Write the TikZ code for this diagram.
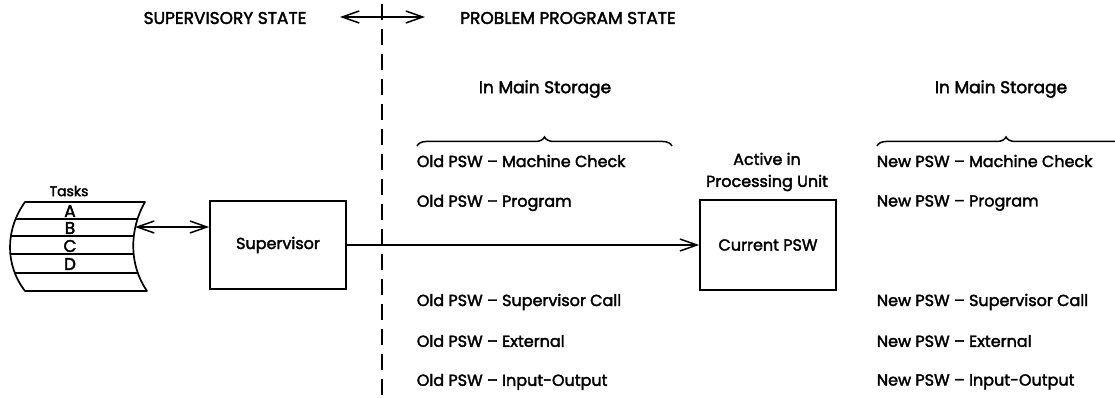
\documentclass[tikz,border=0pt]{standalone}
\usepackage{fontspec}
\setmainfont{Poppins}[FakeBold=2.2]
\usetikzlibrary{arrows.meta,decorations.pathreplacing}
\begin{document}
\begin{tikzpicture}[x=1pt,y=-1pt, line width=1.7pt,
  lbl/.style={font=\fontsize{16}{22}\selectfont, inner sep=0pt},
  biglbl/.style={font=\fontsize{17}{22}\selectfont, inner sep=0pt},
  tasklbl/.style={font=\fontsize{14}{18}\selectfont, inner sep=0pt},
  letterlbl/.style={font=\fontsize{17}{18}\selectfont, inner sep=0pt},
  listitem/.style={lbl, anchor=west},
  box/.style={draw, minimum width=136pt, minimum height=88pt},
  mytip/.tip={Straight Barb[length=17pt,width=12pt,line width=1.5pt]},
  arr/.style={-{mytip}},
  darr/.style={{mytip}-{mytip}},
  divider/.style={dash pattern=on 16pt off 9pt},
  mbrace/.style={decorate, decoration={brace, amplitude=9pt}, line width=1.5pt}]
\useasboundingbox (0,0) rectangle (1115,398);

% titles
\node[biglbl] (sst) at (225,18) {SUPERVISORY STATE};
\node[biglbl] (pst) at (568,18) {PROBLEM PROGRAM STATE};
\coordinate (divtop) at (382,4);
\coordinate (divbot) at (382,396);
\draw[divider] (divtop) -- (divbot);
\coordinate (tl) at (340,17);
\coordinate (tr) at (425,17);
\draw[darr] (tl) -- (tr);

% tasks drum
\def\drum{(25,202) -- (145,202) .. controls (129,230) and (129,265) .. (147,291) -- (25,291) .. controls (5,265) and (5,230) .. cycle}
\begin{scope}
  \clip \drum;
  \foreach \yy in {219,236,254,273} \draw (0,\yy) -- (160,\yy);
\end{scope}
\draw[line join=round] \drum;
\node[tasklbl] (tasks) at (69,191) {Tasks};
\node[letterlbl] (ta) at (70,211) {A};
\node[letterlbl] (tb) at (70,228) {B};
\node[letterlbl] (tc) at (70,246) {C};
\node[letterlbl] (td) at (70,264) {D};
\coordinate (drumR) at (135,227);

% supervisor
\node[box, lbl] (sup) at (278,245) {Supervisor};
\draw[darr] (drumR) -- (drumR -| sup.west);

% current PSW
\node[lbl, align=center] (active) at (767,172) {Active in\\Processing Unit};
\node[box, lbl, minimum height=90pt] (cpsw) at (768,245) {Current PSW};
\draw[arr] (sup.east) -- (cpsw.west);

% old PSWs
\node[biglbl] (ims1) at (545,89) {In Main Storage};
\coordinate (b1l) at (417,146);
\coordinate (b1r) at (672,146);
\draw[mbrace] (b1l) -- (b1r);
\node[listitem] (o1) at (416,161) {Old PSW -- Machine Check};
\node[listitem] (o2) at (416,203) {Old PSW -- Program};
\node[listitem] (o3) at (416,302) {Old PSW -- Supervisor Call};
\node[listitem] (o4) at (416,341) {Old PSW -- External};
\node[listitem] (o5) at (416,382) {Old PSW -- Input-Output};

% new PSWs
\node[biglbl] (ims2) at (1001,89) {In Main Storage};
\coordinate (b2l) at (877,146);
\coordinate (b2r) at (1135,146);
\draw[mbrace] (b2l) -- (b2r);
\node[listitem] (n1) at (876,161) {New PSW -- Machine Check};
\node[listitem] (n2) at (876,203) {New PSW -- Program};
\node[listitem] (n3) at (876,302) {New PSW -- Supervisor Call};
\node[listitem] (n4) at (876,341) {New PSW -- External};
\node[listitem] (n5) at (876,382) {New PSW -- Input-Output};
\end{tikzpicture}
\end{document}
